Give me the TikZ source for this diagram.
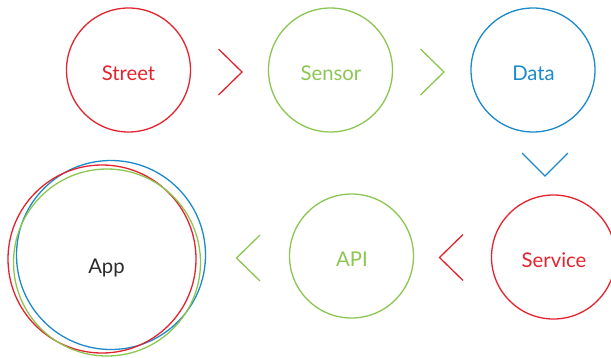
\documentclass[tikz,border=0pt]{standalone}
\usepackage{fontspec}
\setmainfont{Lato}
\definecolor{cred}{HTML}{E3242F}
\definecolor{cgreen}{HTML}{8CC652}
\definecolor{cblue}{HTML}{1B89CA}
\definecolor{ctext}{HTML}{2B2B2B}
\tikzset{
  ring/.style={circle, draw=#1, line width=1.3pt, inner sep=0pt, minimum size=124pt},
  bigring/.style={circle, draw=#1, line width=1.3pt, inner sep=0pt},
  lbl/.style={text=#1, font=\fontsize{20.3}{21}\selectfont, anchor=base, inner sep=0pt},
  chev/.style={draw=#1, line width=1.3pt, line join=miter}
}
\begin{document}
\begin{tikzpicture}[x=1pt,y=-1pt]
\useasboundingbox (0,0) rectangle (611,357);
% top row
\node[ring=cred]   (street) at (128.5,70) {};
\node[ring=cgreen] (sensor) at (330.5,70) {};
\node[ring=cblue]  (data)   at (533,70) {};
% bottom row
\node[ring=cred]   (service) at (553.5,257) {};
\node[ring=cgreen] (api)     at (351.5,256) {};
% app rings
\node[bigring=cblue,  minimum size=189pt] (appb) at (111,255) {};
\node[bigring=cred,   minimum size=188pt] (appr) at (102,259) {};
\node[bigring=cgreen, minimum size=187pt] (appg) at (107,262.5) {};
% labels
\node[lbl=cred]   (tstreet)  at (128.5,80) {Street};
\node[lbl=cgreen] (tsensor)  at (331,80) {Sensor};
\node[lbl=cblue]  (tdata)    at (533.5,80) {Data};
\node[lbl=cred]   (tservice) at (554,267.3) {Service};
\node[lbl=cgreen] (tapi)     at (352,266) {API};
\node[lbl=ctext]  (tapp)     at (106.5,273.3) {App};
% chevrons
\coordinate (c1) at (242,72);
\coordinate (c2) at (444,72);
\coordinate (c3) at (545,176);
\coordinate (c4) at (439.5,257.5);
\coordinate (c5) at (236.5,258);
\draw[chev=cred]   ([shift={(-23.5,-23)}]c1) -- (c1) -- ([shift={(-23.5,23)}]c1);
\draw[chev=cgreen] ([shift={(-23.5,-23)}]c2) -- (c2) -- ([shift={(-23.5,23)}]c2);
\draw[chev=cblue]  ([shift={(-23,-23)}]c3) -- (c3) -- ([shift={(23,-23)}]c3);
\draw[chev=cred]   ([shift={(23.5,-23)}]c4) -- (c4) -- ([shift={(23.5,23)}]c4);
\draw[chev=cgreen] ([shift={(23.5,-23)}]c5) -- (c5) -- ([shift={(23.5,23)}]c5);
\end{tikzpicture}
\end{document}
